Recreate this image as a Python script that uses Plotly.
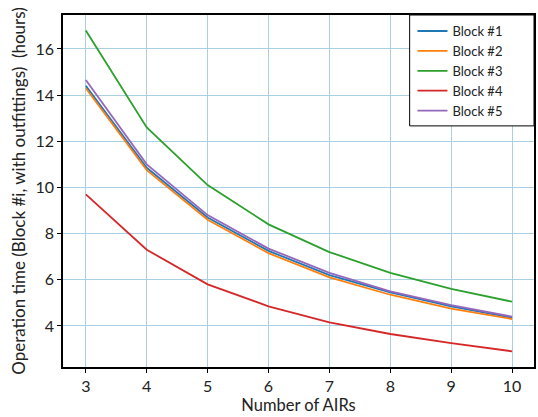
import plotly.graph_objects as go

airs = [3, 4, 5, 6, 7, 8, 9, 10]
block1 = [14.4, 10.85, 8.7, 7.25, 6.2, 5.45, 4.85, 4.35]
block2 = [14.3, 10.75, 8.6, 7.15, 6.1, 5.35, 4.75, 4.3]
block3 = [16.8, 12.6, 10.1, 8.4, 7.2, 6.3, 5.6, 5.05]
block4 = [9.7, 7.3, 5.8, 4.85, 4.15, 3.65, 3.25, 2.9]
block5 = [14.65, 11.0, 8.8, 7.35, 6.3, 5.5, 4.9, 4.4]

names = ["Block #1", "Block #2", "Block #3", "Block #4", "Block #5"]
series = [block1, block2, block3, block4, block5]
colors = ["#1f77b4", "#ff7f0e", "#2ca02c", "#d62728", "#9467bd"]

fig = go.Figure()
for n, s, c in zip(names, series, colors):
    fig.add_trace(go.Scatter(x=airs, y=s, mode="lines", name=n,
                             line=dict(color=c, width=1.8)))

# legend frame (drawn as a box so it can be wider than the entries)
fig.add_shape(type="rect", xref="paper", yref="paper",
              x0=0.736, x1=1.0, y0=0.685, y1=1.0, layer="above",
              fillcolor="white", line=dict(color="black", width=1))

font = "Lato, 'Open Sans', sans-serif"
fig.update_layout(
    width=538, height=417,
    margin=dict(l=63, r=2, t=15, b=50),
    paper_bgcolor="white", plot_bgcolor="white",
    font=dict(family=font, size=16, color="#222"),
    legend=dict(x=0.742, y=0.997, xanchor="left", yanchor="top",
                bgcolor="rgba(0,0,0,0)", borderwidth=0,
                font=dict(size=13), tracegroupgap=0,
                itemwidth=30),
    showlegend=True,
)
fig.update_xaxes(range=[2.625, 10.36], tickvals=airs, showgrid=True,
                 gridcolor="#a9cfe3", gridwidth=1,
                 showline=True, linecolor="black", linewidth=1.5, mirror=True,
                 ticks="outside", ticklen=4, tickcolor="black",
                 tickfont=dict(size=16),
                 title=dict(text="Number of AIRs", standoff=2, font=dict(size=16.5)),
                 zeroline=False)
fig.update_yaxes(range=[2.22, 17.47], tickvals=[4, 6, 8, 10, 12, 14, 16],
                 showgrid=True, gridcolor="#a9cfe3", gridwidth=1,
                 showline=True, linecolor="black", linewidth=1.5, mirror=True,
                 ticks="outside", ticklen=4, tickcolor="black",
                 tickfont=dict(size=16),
                 title=dict(text="Operation time (Block #i, with outfittings)  (hours)",
                            standoff=6, font=dict(size=17)),
                 zeroline=False)
fig.write_html("out.html")
